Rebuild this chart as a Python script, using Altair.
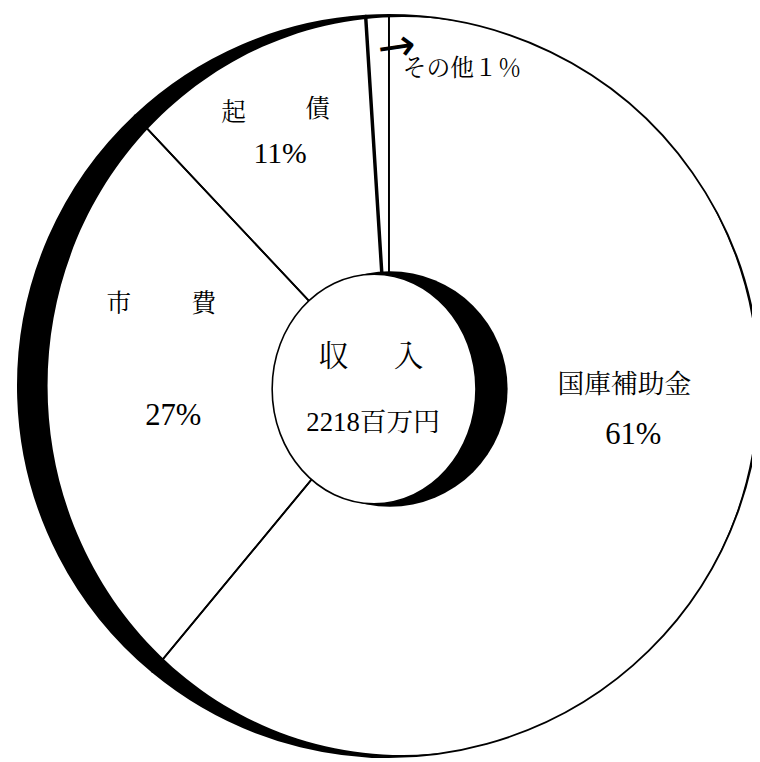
import altair as alt
import pandas as pd

# ---- data ----
categories = ["国庫補助金", "市費", "起債", "その他"]
values = [61, 27, 11, 1]
order_idx = [0, 1, 2, 3]

center_title = ["収", "入"]
center_total = "2218百万円"
pct_labels = ["61%", "27%", "11%"]
other_label = "その他１％"

df = pd.DataFrame({"category": categories, "value": values, "idx": order_idx})
one = pd.DataFrame({"k": [0]})

CJK = "Noto Serif CJK JP, Noto Sans CJK JP"
SERIF = "Liberation Serif, Noto Serif CJK JP, Noto Sans CJK JP"

# pie centre (view coordinates)
CX, CY = 385, 378
R = 375


def ellipse_path(a):
    return f"M {-a} 0 A {a} 1 0 1 0 {a} 0 A {a} 1 0 1 0 {-a} 0 Z"


outer_black = alt.Chart(one).mark_point(
    shape="circle", filled=True, fill="black", stroke="black", strokeWidth=0,
    size=750 ** 2, opacity=1
).encode(x=alt.value(CX), y=alt.value(CY))

outer_white = alt.Chart(one).mark_point(
    shape=ellipse_path(0.9625), filled=True, fill="white", strokeWidth=0,
    size=746 ** 2, opacity=1
).encode(x=alt.value(399), y=alt.value(378))

slices = alt.Chart(df).mark_arc(
    radius=R, fill="white", fillOpacity=0, stroke="black", strokeWidth=1.8
).encode(
    theta=alt.Theta("value:Q", stack=True),
    order=alt.Order("idx:Q"),
    x=alt.value(CX), y=alt.value(CY),
)

thick_edge = alt.Chart(df).transform_joinaggregate(
    total="sum(value)"
).transform_window(
    cum="sum(value)", sort=[alt.SortField("idx")]
).transform_calculate(
    frac="datum.cum / datum.total"
).transform_filter("datum.idx == 2").mark_arc(
    radius=R, fill="white", fillOpacity=0, stroke="black", strokeWidth=3.5
).encode(
    theta=alt.Theta("frac:Q", scale=alt.Scale(domain=[0, 1], range=[0, 6.283185307179586])),
    theta2="frac:Q",
    x=alt.value(CX), y=alt.value(CY),
)

inner_black = alt.Chart(one).mark_point(
    shape="circle", filled=True, fill="black", strokeWidth=0,
    size=238 ** 2, opacity=1
).encode(x=alt.value(386), y=alt.value(381))

inner_white = alt.Chart(one).mark_point(
    shape=ellipse_path(0.888), filled=True, fill="white", stroke="black", strokeWidth=1.6,
    size=232 ** 2, opacity=1
).encode(x=alt.value(370), y=alt.value(381))


def label(txt, x, y, size, font=CJK, angle=0):
    kw = dict(text=txt, font=font, fontSize=size, align="center", baseline="middle", color="black")
    if angle:
        kw["angle"] = angle
    return alt.Chart(one).mark_text(**kw).encode(x=alt.value(x), y=alt.value(y))


texts = [
    label(categories[0], 623, 377, 27),
    label(pct_labels[0], 632, 428, 31, SERIF),
    label(categories[1][0], 112, 295, 25),
    label(categories[1][1], 198, 295, 25),
    label(pct_labels[1], 167, 408, 31, SERIF),
    label(categories[2][0], 228, 102, 25),
    label(categories[2][1], 313, 98, 25),
    label(pct_labels[2], 275, 144, 30, SERIF),
    label(other_label, 459, 58, 24),
    label("→", 393, 36, 46, "DejaVu Sans", angle=352),
    label(center_title[0], 329, 349, 30),
    label(center_title[1], 405, 349, 30),
    label(center_total, 369, 415, 27, SERIF),
]

chart = alt.layer(
    outer_black, outer_white, slices, thick_edge, inner_black, inner_white, *texts
).resolve_scale(theta="independent").properties(
    width=752, height=754, padding=0,
    autosize=alt.AutoSizeParams(type="none"),
).configure_view(stroke=None)

chart.save("out.html", embed_options={"renderer": "svg", "actions": False})
